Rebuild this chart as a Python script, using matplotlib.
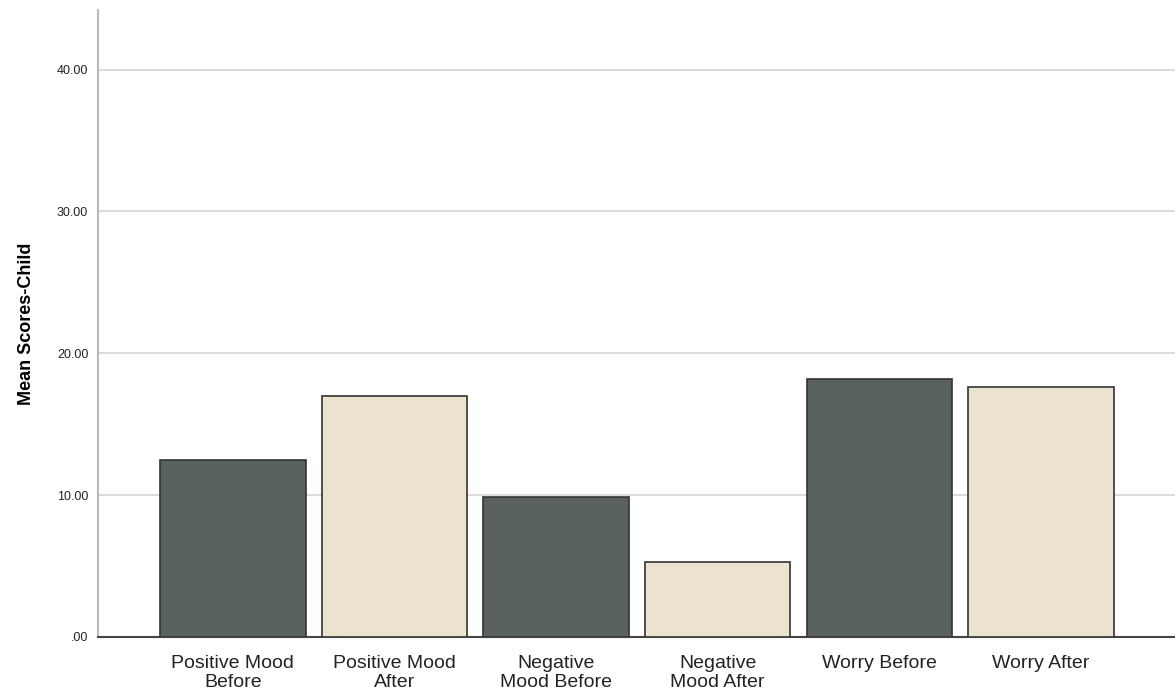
import matplotlib
matplotlib.use('Agg')
import matplotlib.pyplot as plt

categories = ['Positive Mood\nBefore', 'Positive Mood\nAfter', 'Negative\nMood Before',
              'Negative\nMood After', 'Worry Before', 'Worry After']
means = [12.5, 17.0, 9.9, 5.3, 18.2, 17.6]
colors = ['#5a625d', '#ebe3cf', '#5a625d', '#ebe3cf', '#5a625d', '#ebe3cf']
y_ticks = [0, 10, 20, 30, 40]
y_tick_labels = ['.00', '10.00', '20.00', '30.00', '40.00']

plt.rcParams['font.family'] = ['Liberation Sans', 'DejaVu Sans']

fig = plt.figure(figsize=(11.75, 6.96), dpi=100)
ax = fig.add_axes([0.0834, 0.0848, 0.9166, 0.9008])

x = list(range(len(categories)))
ax.bar(x, means, width=0.9, color=colors, edgecolor='#333333', linewidth=1.2, zorder=3)

ax.set_xlim(-0.835, 5.83)
ax.set_ylim(0, 44.2)
ax.set_yticks(y_ticks)
ax.set_yticklabels(y_tick_labels, fontsize=9, color='#222222')
ax.set_xticks(x)
ax.set_xticklabels(categories, fontsize=14, color='#222222', linespacing=1.15)
ax.tick_params(axis='both', length=0)
ax.tick_params(axis='y', pad=7)
ax.tick_params(axis='x', pad=13)

ax.grid(axis='y', color='#d4d4d4', linewidth=1.2, zorder=0)
for s in ['top', 'right']:
    ax.spines[s].set_visible(False)
ax.spines['left'].set_color('#bbbbbb')
ax.spines['left'].set_linewidth(1.5)
ax.spines['bottom'].set_color('#444444')
ax.spines['bottom'].set_linewidth(1.5)

ax.set_ylabel('Mean Scores-Child', fontsize=13, fontweight='bold', labelpad=16)

plt.savefig('out.png', dpi=100)
